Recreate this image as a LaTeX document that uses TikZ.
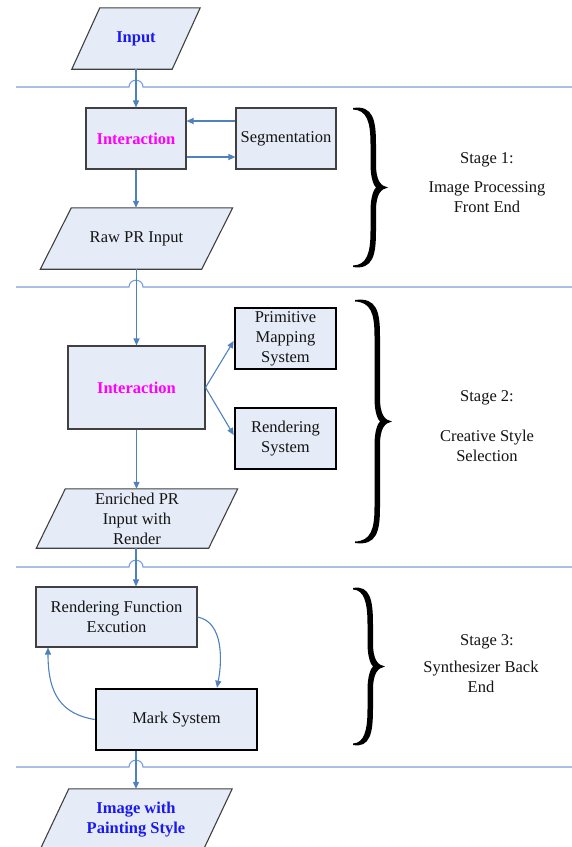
\documentclass[tikz,border=0pt]{standalone}
\usepackage{fontspec}
\setmainfont{Liberation Serif}
\newfontfamily\diagfont{Liberation Serif}
\usetikzlibrary{arrows.meta,backgrounds,calc}
\definecolor{boxfill}{RGB}{230,236,247}
\definecolor{arrblue}{RGB}{79,129,189}
\definecolor{sepblue}{RGB}{125,158,212}
\definecolor{boxline}{RGB}{64,64,64}
\definecolor{txtblue}{RGB}{25,25,240}
\definecolor{txtmag}{RGB}{255,0,255}
\definecolor{txtgrey}{RGB}{20,20,20}
\newcommand\stagebrace[4]{%
  \pgfmathsetmacro\bM{(#2+#3)/2}%
  \pgfmathsetmacro\bS{#4-15}%
  \fill[black] (#1,#2) .. controls (\bS,#2-3) and (\bS+3,#2+12) .. (\bS+3,#2+36)
    -- (\bS+3,\bM-24) .. controls (\bS+3,\bM-6) and (\bS+8,\bM-1.5) .. (#4,\bM)
    .. controls (\bS+8,\bM+1.5) and (\bS+3,\bM+6) .. (\bS+3,\bM+24)
    -- (\bS+3,#3-36) .. controls (\bS+3,#3-12) and (\bS,#3+3) .. (#1,#3)
    -- (#1,#3-1.5) .. controls (\bS-6,#3-2) and (\bS-2.5,#3-14) .. (\bS-2.5,#3-36)
    -- (\bS-2.5,\bM+24) .. controls (\bS-2.5,\bM+8) and (\bS+1,\bM+2) .. (\bS+3,\bM)
    .. controls (\bS+1,\bM-2) and (\bS-2.5,\bM-8) .. (\bS-2.5,\bM-24)
    -- (\bS-2.5,#2+36) .. controls (\bS-2.5,#2+14) and (\bS-6,#2+2) .. (#1,#2+1.5) -- cycle;}
\newcommand\iopara[2]{%
  \begin{scope}[on background layer]
  \draw[procbox] ($(#1.north west)+(#2,0)$) -- ($(#1.north east)+(#2,0)$)
     -- ($(#1.south east)+(-#2,0)$) -- ($(#1.south west)+(-#2,0)$) -- cycle;
  \end{scope}}
\begin{document}
\begin{tikzpicture}[x=1pt,y=-1pt,
  every node/.style={font=\diagfont\fontsize{16.5}{20}\selectfont, text=txtgrey, inner sep=0pt, align=center},
  boldtxt/.style={font=\diagfont\fontsize{16.5}{20}\selectfont\bfseries},
  procbox/.style={draw=boxline, fill=boxfill, line width=1.1pt},
  thickbox/.style={draw=black, fill=boxfill, line width=2.6pt},
  arr/.style={draw=arrblue, line width=1.1pt, -{Triangle[length=7pt,width=6pt]}},
  sepline/.style={draw=sepblue, line width=1.1pt},
  stagetxt/.style={text=txtgrey}]
\begin{scope}[on background layer]
\fill[white] (0,0) rectangle (572,847);
\end{scope}
\useasboundingbox (0,0) rectangle (572,847);

% separator lines with hops
\foreach \yy in {87,287,567,767}{
  \draw[sepline] (16,\yy) -- (129,\yy) .. controls (129,\yy-9) and (143,\yy-9) .. (143,\yy) -- (572,\yy);
}

% Stage 1
\node (inp) [boldtxt, text=txtblue, minimum width=100, minimum height=61] at (136,38.5) {Input};
\iopara{inp}{14}
\node (int1) [procbox, boldtxt, text=txtmag, minimum width=100, minimum height=61] at (136,138.5) {Interaction};
\node (seg) [procbox, minimum width=100, minimum height=61] at (286,138.5) {Segmentation};
\node (raw) [minimum width=161, minimum height=61] at (136.5,238.5) {Raw PR Input};
\iopara{raw}{15.5}

% Stage 2
\node (int2) [procbox, boldtxt, text=txtmag, minimum width=137, minimum height=83] at (136.5,387.5) {Interaction};
\node (pms) [thickbox, minimum width=101, minimum height=61] at (285.5,338.5) {Primitive\\Mapping\\System};
\node (rs) [thickbox, minimum width=101, minimum height=61] at (285.5,438.5) {Rendering\\System};
\node (enr) [minimum width=172, minimum height=59] at (137,518.5) {Enriched PR\\Input with\\Render};
\iopara{enr}{14.5}

% Stage 3
\node (rfe) [procbox, minimum width=161, minimum height=60] at (116.5,617) {Rendering Function\\Excution};
\node (ms) [thickbox, minimum width=161, minimum height=61] at (176.5,719.5) {Mark System};
\node (img) [boldtxt, text=txtblue, minimum width=163, minimum height=61] at (136,819.5) {Image with\\Painting Style};
\iopara{img}{14.5}

% connectors
\draw[arr] (inp.south) -- (int1.north);
\draw[arr] ([yshift=17.5pt]seg.west) -- ([yshift=17.5pt]int1.east);
\draw[arr] ([yshift=-18.5pt]int1.east) -- ([yshift=-18.5pt]seg.west);
\draw[arr] (int1.south) -- (raw.north -| int1.south);
\draw[arr] (raw.south -| int2.north) -- (int2.north);
\draw[arr] (int2.east) -- ([yshift=-2.5pt]pms.west);
\draw[arr] (int2.east) -- ([yshift=3.5pt]rs.west);
\draw[arr] (int2.south) -- (enr.north -| int2.south);
\draw[arr] (enr.south -| inp.south) -- (rfe.north -| inp.south);
\draw[arr] (rfe.east) .. controls (224,622) and (222,662) .. ([xshift=40.5pt]ms.north);
\draw[arr] (ms.west) .. controls (62,714) and (48,695) .. ([xshift=-68.5pt]rfe.south);
\draw[arr] (ms.south -| img.north) -- (img.north);

% braces
\stagebrace{353}{108}{267}{388}
\stagebrace{355}{300}{543}{392}
\stagebrace{353}{588}{745}{385}

% stage labels
\node (s1) [stagetxt] at (487,160) {Stage 1:};
\node (s1d) [stagetxt] at (487,197) {Image Processing\\Front End};
\node (s2) [stagetxt] at (487,398) {Stage 2:};
\node (s2d) [stagetxt] at (487,446) {Creative Style\\Selection};
\node (s3) [stagetxt] at (487,642) {Stage 3:};
\node (s3d) [stagetxt] at (481,677) {Synthesizer Back\\End};
\end{tikzpicture}
\end{document}
